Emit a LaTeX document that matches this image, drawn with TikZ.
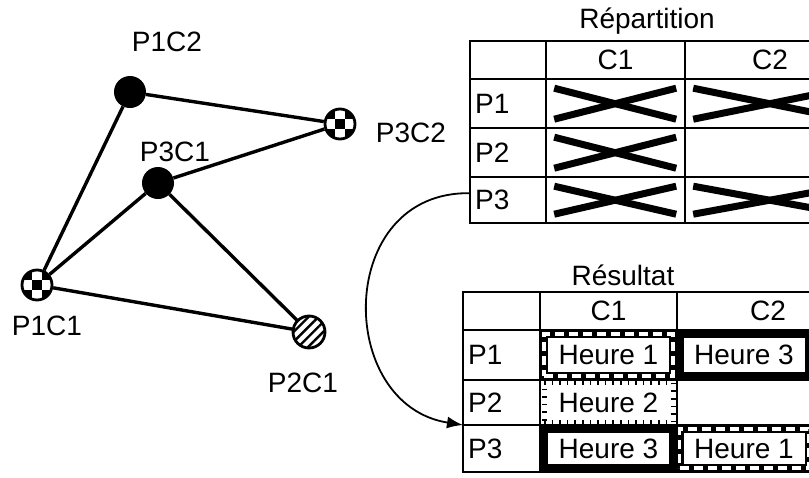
\documentclass[tikz,border=0pt]{standalone}
\usepackage{fontspec}
\setsansfont{Liberation Sans}
\usetikzlibrary{arrows.meta,patterns.meta}

\begin{document}
\begin{tikzpicture}[
  x=1pt, y=-1pt,
  font=\sffamily\fontsize{28}{32}\selectfont,
  edge/.style={line width=3.4pt},
  full/.style={circle, fill=black, minimum size=32pt, inner sep=0pt},
  damier/.style={circle, draw=black, line width=2.8pt, fill=white, minimum size=30pt,
                 inner sep=0pt,
                 path picture={
                   \foreach \i in {-1,0,1} \foreach \j in {-1,0,1} {
                     \pgfmathtruncatemacro\odd{mod(\i+\j+2,2)}
                     \ifnum\odd=0
                       \fill[black] ([shift={(\i*10pt-5pt,\j*10pt-5pt)}]path picture bounding box.center)
                         rectangle ++(10pt,10pt);
                     \fi}
                 }},
  raye/.style={circle, draw=black, line width=2.8pt, minimum size=32pt, inner sep=0pt,
               pattern={Lines[angle=45,distance=7pt,line width=2.4pt]}},
  tab/.style={line width=2.2pt},
  rowhead/.style={anchor=north west, minimum height=#1, text width=66pt, inner sep=5pt,
                  align=left},
  xcell/.style={anchor=north west, minimum height=#1, inner sep=0pt,
                path picture={
                  \draw[line width=7pt] ([shift={(8pt,-9pt)}]path picture bounding box.north west)
                    -- ([shift={(-9pt,9pt)}]path picture bounding box.south east);
                  \draw[line width=7pt] ([shift={(8pt,9pt)}]path picture bounding box.south west)
                    -- ([shift={(-9pt,-9pt)}]path picture bounding box.north east);
                }},
  hour/.style={minimum width=129pt, inner sep=0pt},
  h1/.style={hour, draw=black, line width=8pt,
             postaction={draw=white, line width=3.5pt, dash pattern=on 9pt off 5pt}},
  h2/.style={hour, draw=black, line width=5pt, dash pattern=on 1.6pt off 6pt},
  h3/.style={hour, draw=black, line width=8pt},
  arr/.style={-{Latex[length=16pt,width=12pt]}, line width=1.8pt}
]
\useasboundingbox (0,0) rectangle (809,477);

% conflict graph
\node[full]   (p1c2) at (130,92)  {};
\node[damier] (p3c2) at (340,124) {};
\node[full]   (p3c1) at (158,183) {};
\node[damier] (p1c1) at (37,285)  {};
\node[raye]   (p2c1) at (309,332) {};

\draw[edge] (p1c2) -- (p3c2);
\draw[edge] (p1c2) -- (p1c1);
\draw[edge] (p3c1) -- (p3c2);
\draw[edge] (p3c1) -- (p1c1);
\draw[edge] (p3c1) -- (p2c1);
\draw[edge] (p1c1) -- (p2c1);

\node (l12) at (167,42)  {P1C2};
\node (l32) at (411,133) {P3C2};
\node (l31) at (175,152) {P3C1};
\node (l11) at (47,326)  {P1C1};
\node (l21) at (303,383) {P2C1};

% Repartition table
\node (rep) at (647,21) {Répartition};
\draw[tab] (470,41) rectangle (860,223);
\draw[tab] (546,41) -- (546,223);
\draw[tab] (685,41) -- (685,223);
\draw[tab] (470,79) -- (860,79);
\draw[tab] (470,128) -- (860,128);
\draw[tab] (470,177) -- (860,177);

\node (rc1) at (615.5,60) {C1};
\node (rc2) at (770,60)   {C2};
\node[rowhead=49pt] (rp1) at (470,79)  {P1};
\node[rowhead=49pt] (rp2) at (470,128) {P2};
\node[rowhead=46pt] (rp3) at (470,177) {P3};

\node[xcell=49pt, minimum width=139pt] (rx11) at (546,79)  {};
\node[xcell=49pt, minimum width=170pt] (rx12) at (685,79)  {};
\node[xcell=49pt, minimum width=139pt] (rx21) at (546,128) {};
\node[xcell=46pt, minimum width=139pt] (rx31) at (546,177) {};
\node[xcell=46pt, minimum width=170pt] (rx32) at (685,177) {};

% Resultat table
\node (res) at (623,275) {Résultat};
\draw[tab] (463,292) rectangle (860,472);
\draw[tab] (540,292) -- (540,472);
\draw[tab] (677,292) -- (677,472);
\draw[tab] (463,330) -- (860,330);
\draw[tab] (463,380) -- (860,380);
\draw[tab] (463,425) -- (860,425);

\node (sc1) at (608.5,311) {C1};
\node (sc2) at (768,311)   {C2};
\node[rowhead=50pt] (sp1) at (463,330) {P1};
\node[rowhead=45pt] (sp2) at (463,380) {P2};
\node[rowhead=47pt] (sp3) at (463,425) {P3};

\node[h1, minimum height=42pt] (h11) at (608.5,355) {Heure 1};
\node[h3, minimum height=42pt] (h12) at (744,355)   {Heure 3};
\node[h2, minimum height=40pt] (h21) at (608.5,402.5) {Heure 2};
\node[h3, minimum height=39pt] (h31) at (608.5,448.5) {Heure 3};
\node[h1, minimum height=39pt] (h32) at (744,448.5)   {Heure 1};

\draw[arr] ([yshift=7pt]rp3.west) .. controls (335,191) and (335,405) .. (sp3.north west);
\end{tikzpicture}
\end{document}
